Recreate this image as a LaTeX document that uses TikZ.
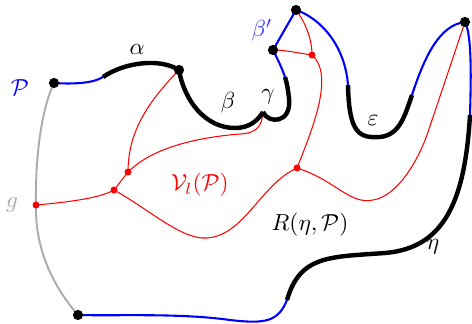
\documentclass[tikz,border=0pt]{standalone}
\usepackage{amsmath,amssymb}
\usepackage{tikz}
\usetikzlibrary{calc}
\definecolor{lightgray}{HTML}{AAAAAA}
\definecolor{softblue}{HTML}{3030F5}

\begin{document}
\begin{tikzpicture}[x=0.43pt,y=-0.43pt,font=\normalsize]
  \tikzset{pdot/.style={circle,fill=black,inner sep=0pt,minimum size=4.4pt},
    vdot/.style={circle,fill=red,inner sep=0pt,minimum size=3pt},
    bnd/.style={blue,line width=0.9pt},
    arc/.style={black,line width=1.9pt},
    vor/.style={red,line width=0.45pt},
    gline/.style={lightgray,line width=0.8pt}}
  \useasboundingbox (0,0) rectangle (472,323);
  % points on the boundary
  \coordinate (P0) at (54,83);
  \coordinate (a1) at (103,77);
  \coordinate (A) at (179,70);
  \coordinate (G) at (263,112);
  \coordinate (g1) at (285,77);
  \coordinate (B1) at (273,50);
  \coordinate (B2) at (296,10);
  \coordinate (e1) at (348,85);
  \coordinate (e2) at (412,95);
  \coordinate (E) at (465,22);
  \coordinate (h1) at (470,115);
  \coordinate (h2) at (287,300);
  \coordinate (Q) at (78,315);
  % voronoi vertices
  \coordinate (r1) at (36,205);
  \coordinate (r2) at (114,190);
  \coordinate (r3) at (128,172);
  \coordinate (r4) at (297,168);
  \coordinate (r5) at (312,55);
  % red edges
  \draw[vor] (r1) .. controls (70,202) and (100,198) .. (r2) -- (r3);
  \draw[vor] (r3) .. controls (128,130) and (150,100) .. (A);
  \draw[vor] (r3) .. controls (150,150) and (190,138) .. (240,134)
    .. controls (258,133) and (262,125) .. (G);
  \draw[vor] (r2) .. controls (150,210) and (182,240) .. (207,238)
    .. controls (245,235) and (260,185) .. (r4);
  \draw[vor] (r4) .. controls (312,130) and (335,75) .. (r5);
  \draw[vor] (r5) .. controls (298,53) and (285,50) .. (B1);
  \draw[vor] (r5) .. controls (312,38) and (305,22) .. (B2);
  \draw[vor] (r4) .. controls (335,180) and (350,205) .. (373,200)
    .. controls (398,196) and (418,160) .. (427,135) -- (E);
  % g
  \draw[gline] (Q) .. controls (52,285) and (35,248) .. (r1)
    .. controls (35,160) and (41,110) .. (P0);
  % blue parts
  \draw[bnd] (P0) .. controls (70,84) and (92,84) .. (a1);
  \draw[bnd] (g1) .. controls (282,68) and (277,58) .. (B1) -- (B2);
  \draw[bnd] (B2) .. controls (320,18) and (345,45) .. (e1);
  \draw[bnd] (e2) .. controls (425,55) and (440,25) .. (E);
  \draw[bnd] (E) .. controls (472,35) and (471,80) .. (h1);
  \draw[bnd] (h2) .. controls (278,322) and (265,324) .. (230,320)
    .. controls (180,313) and (120,316) .. (Q);
  % black parts
  \draw[arc] (a1) .. controls (125,62) and (160,58) .. (A);
  \draw[arc] (A) .. controls (184,100) and (205,128) .. (235,128)
    .. controls (250,128) and (258,120) .. (G);
  \draw[arc] (G) .. controls (268,124) and (292,124) .. (289,98)
    .. controls (288,90) and (287,83) .. (g1);
  \draw[arc] (e1) .. controls (349,135) and (360,138) .. (380,137)
    .. controls (400,135) and (405,115) .. (e2);
  \draw[arc] (h1) .. controls (465,200) and (445,248) .. (385,253)
    .. controls (330,257) and (300,255) .. (h2);
  % dots
  \foreach \p in {P0,A,B1,B2,E,Q} \node[pdot] at (\p) {};
  \foreach \p in {r1,r2,r3,r4,r5} \node[vdot] at (\p) {};
  % labels
  \node[blue] (lP) at (20,88) {$\mathcal{P}$};
  \node (lalpha) at (137,49) {$\alpha$};
  \node (lbeta) at (228,103) {$\beta$};
  \node (lgamma) at (268,97) {$\gamma$};
  \node[softblue] (lbetap) at (262,30) {$\beta'$};
  \node (leps) at (373,120) {$\varepsilon$};
  \node[lightgray] (lg) at (12,205) {$g$};
  \node[red] (lV) at (200,185) {$\mathcal{V}_l(\mathcal{P})$};
  \node (lR) at (310,225) {$R(\eta,\mathcal{P})$};
  \node (leta) at (433,247) {$\eta$};
\end{tikzpicture}
\end{document}
